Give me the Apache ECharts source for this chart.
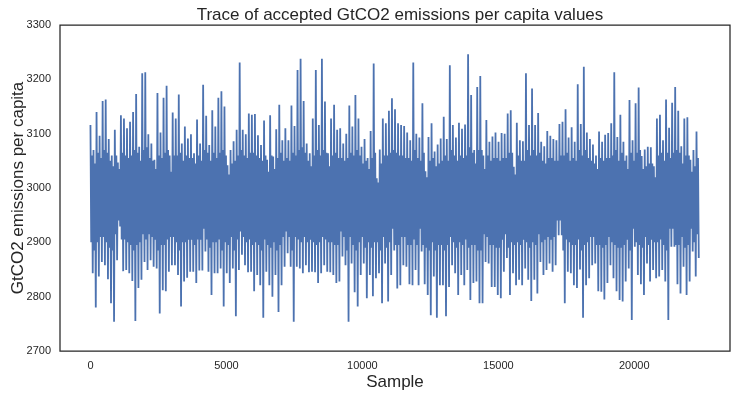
<!DOCTYPE html>
<html>
<head>
<meta charset="utf-8">
<script src="https://cdn.jsdelivr.net/npm/echarts@6/dist/echarts.min.js"></script>
<style>
  html, body { margin: 0; padding: 0; background: #fff; }
  #chart { width: 737px; height: 397px; }
</style>
</head>
<body>
<div id="chart"></div>
<script>
// trace, per bin of 112 samples:
// highest value, lowest value, and where the dense core of the band starts/ends
const binSize = 112
const upper = [
  3116, 3070, 3140, 3096, 3160, 3163, 3090, 3060, 3107, 3047,
  3134, 3128, 3110, 3122, 3140, 3173, 3076, 3211, 3213, 3099,
  3082, 3052, 3175, 3102, 3166, 3188, 3060, 3139, 3128, 3172,
  3082, 3113, 3091, 3099, 3064, 3126, 3082, 3190, 3133, 3079,
  3143, 3113, 3166, 3178, 3150, 3042, 3070, 3086, 3107, 3231,
  3107, 3099, 3137, 3135, 3136, 3097, 3079, 3124, 3052, 3134,
  3058, 3108, 3153, 3088, 3110, 3088, 3152, 3114, 3217, 3238,
  3160, 3082, 3064, 3128, 3217, 3116, 3238, 3159, 3064, 3128,
  3153, 3107, 3110, 3082, 3100, 3152, 3113, 3171, 3128, 3076,
  3090, 3055, 3105, 3229, 3018, 3071, 3128, 3119, 3142, 3165,
  3145, 3119, 3116, 3114, 3102, 3088, 3231, 3100, 3093, 3156,
  3031, 3094, 3119, 3067, 3080, 3091, 3131, 3090, 3226, 3116,
  3093, 3120, 3109, 3117, 3246, 3171, 3070, 3186, 3206, 3060,
  3125, 3085, 3095, 3102, 3085, 3101, 3100, 3137, 3143, 3039,
  3120, 3088, 3086, 3211, 3116, 3183, 3116, 3138, 3085, 3077,
  3105, 3096, 3090, 3088, 3118, 3122, 3145, 3093, 3112, 3085,
  3191, 3118, 3223, 3102, 3090, 3080, 3060, 3104, 3085, 3098,
  3101, 3119, 3213, 3094, 3135, 3085, 3060, 3162, 3088, 3156,
  3185, 3059, 3071, 3076, 3075, 3040, 3128, 3135, 3088, 3163,
  3111, 3157, 3186, 3142, 3077, 3128, 3130, 3052, 3070, 3104
]
const lower = [
  2843, 2780, 2837, 2864, 2858, 2832, 2788, 2754, 2867, 2929,
  2847, 2849, 2843, 2829, 2755, 2816, 2831, 2864, 2849, 2867,
  2855, 2852, 2769, 2812, 2810, 2846, 2858, 2858, 2840, 2782,
  2828, 2835, 2846, 2846, 2825, 2848, 2848, 2883, 2846, 2803,
  2843, 2843, 2852, 2782, 2843, 2825, 2852, 2764, 2849, 2877,
  2858, 2845, 2846, 2810, 2840, 2821, 2761, 2846, 2821, 2800,
  2840, 2772, 2821, 2855, 2880, 2855, 2754, 2855, 2852, 2843,
  2858, 2845, 2846, 2845, 2825, 2843, 2858, 2846, 2845, 2840,
  2825, 2828, 2874, 2858, 2754, 2861, 2808, 2782, 2840, 2861,
  2797, 2840, 2801, 2834, 2843, 2788, 2861, 2791, 2840, 2885,
  2815, 2821, 2858, 2855, 2823, 2821, 2849, 2821, 2883, 2823,
  2803, 2766, 2837, 2761, 2821, 2821, 2764, 2818, 2858, 2843,
  2803, 2840, 2821, 2849, 2794, 2825, 2828, 2788, 2788, 2864,
  2861, 2818, 2818, 2803, 2797, 2846, 2871, 2803, 2843, 2821,
  2831, 2821, 2852, 2831, 2792, 2831, 2806, 2864, 2840, 2849,
  2861, 2846, 2858, 2913, 2913, 2788, 2846, 2843, 2821, 2816,
  2850, 2761, 2821, 2834, 2858, 2861, 2810, 2809, 2795, 2825,
  2858, 2834, 2810, 2794, 2791, 2828, 2852, 2757, 2892, 2840,
  2823, 2803, 2861, 2828, 2849, 2834, 2837, 2849, 2828, 2757,
  2892, 2892, 2823, 2806, 2855, 2803, 2828, 2883, 2837, 2871
]
const coreTop = [
  3060, 3045, 3065, 3055, 3070, 3065, 3050, 3040, 3060, 3035,
  3065, 3060, 3055, 3060, 3070, 3065, 3050, 3070, 3075, 3055,
  3050, 3035, 3060, 3055, 3065, 3070, 3030, 3060, 3060, 3065,
  3050, 3060, 3055, 3055, 3045, 3060, 3050, 3070, 3065, 3050,
  3065, 3055, 3065, 3070, 3060, 3025, 3045, 3050, 3060, 3070,
  3060, 3055, 3065, 3065, 3060, 3055, 3050, 3060, 3030, 3060,
  3035, 3055, 3065, 3050, 3055, 3050, 3065, 3060, 3070, 3075,
  3065, 3050, 3040, 3060, 3070, 3060, 3070, 3065, 3040, 3060,
  3065, 3055, 3055, 3050, 3055, 3065, 3060, 3070, 3060, 3045,
  3050, 3035, 3055, 3065, 3010, 3045, 3060, 3060, 3065, 3070,
  3065, 3060, 3060, 3055, 3055, 3050, 3070, 3055, 3050, 3065,
  3020, 3050, 3055, 3040, 3045, 3050, 3060, 3050, 3070, 3060,
  3050, 3060, 3055, 3060, 3075, 3065, 3045, 3070, 3070, 3035,
  3060, 3050, 3055, 3055, 3050, 3055, 3055, 3065, 3065, 3025,
  3060, 3050, 3050, 3070, 3060, 3070, 3060, 3065, 3050, 3045,
  3055, 3055, 3050, 3050, 3060, 3060, 3065, 3050, 3055, 3050,
  3070, 3060, 3070, 3055, 3050, 3045, 3035, 3055, 3050, 3055,
  3055, 3060, 3070, 3050, 3065, 3050, 3035, 3065, 3050, 3065,
  3070, 3035, 3040, 3045, 3045, 3020, 3060, 3065, 3050, 3065,
  3055, 3065, 3070, 3065, 3045, 3060, 3060, 3030, 3040, 3055
]
const coreBottom = [
  2900, 2885, 2900, 2910, 2910, 2900, 2890, 2885, 2915, 2940,
  2905, 2905, 2900, 2895, 2885, 2895, 2900, 2915, 2905, 2915,
  2910, 2905, 2885, 2895, 2895, 2905, 2910, 2910, 2900, 2885,
  2900, 2900, 2905, 2905, 2895, 2905, 2905, 2925, 2905, 2890,
  2900, 2900, 2905, 2885, 2900, 2895, 2910, 2885, 2905, 2920,
  2910, 2900, 2905, 2895, 2900, 2895, 2885, 2905, 2895, 2890,
  2900, 2885, 2895, 2910, 2920, 2910, 2885, 2910, 2905, 2900,
  2910, 2900, 2905, 2900, 2895, 2900, 2910, 2905, 2900, 2900,
  2895, 2895, 2920, 2910, 2885, 2910, 2895, 2885, 2900, 2910,
  2890, 2900, 2890, 2900, 2900, 2885, 2910, 2890, 2900, 2925,
  2895, 2895, 2910, 2910, 2895, 2895, 2905, 2895, 2925, 2895,
  2890, 2885, 2900, 2885, 2895, 2895, 2885, 2895, 2910, 2900,
  2890, 2900, 2895, 2905, 2890, 2895, 2895, 2885, 2885, 2915,
  2910, 2895, 2895, 2890, 2890, 2905, 2915, 2890, 2900, 2895,
  2900, 2895, 2905, 2900, 2890, 2900, 2895, 2915, 2900, 2905,
  2910, 2905, 2910, 2940, 2940, 2885, 2905, 2900, 2895, 2895,
  2905, 2885, 2895, 2900, 2910, 2910, 2895, 2895, 2890, 2895,
  2910, 2900, 2895, 2890, 2890, 2895, 2905, 2885, 2925, 2900,
  2895, 2890, 2910, 2895, 2905, 2900, 2900, 2905, 2895, 2885,
  2925, 2925, 2895, 2895, 2910, 2890, 2895, 2925, 2900, 2915
]
const xTicks = [0, 5000, 10000, 15000, 20000]
const yMin = 2700, yMax = 3300, yStep = 100

// walk each bin: high, down into the core, back up, then the low
const trace = []
const q = binSize / 4
for (let i = 0; i < upper.length; i++) {
  const s = i * binSize
  trace.push([s, upper[i]])
  trace.push([s + q, coreBottom[i]])
  trace.push([s + 2 * q, coreTop[i]])
  trace.push([s + 3 * q, lower[i]])
}

const ink = '#262626'
const font = '"Liberation Sans", Arial, sans-serif'

const chart = echarts.init(document.getElementById('chart'), null, {renderer: 'canvas'})
chart.setOption({
  animation: false,
  title: {
    text: 'Trace of accepted GtCO2 emissions per capita values',
    left: 395, top: 2, textAlign: 'center',
    textStyle: {fontFamily: font, fontSize: 17, fontWeight: 'normal', color: ink}
  },
  grid: {
    left: 60, right: 7, top: 25, bottom: 46,
    containLabel: false, outerBoundsMode: 'none',
    show: true, borderColor: ink, borderWidth: 1.25, backgroundColor: '#fff'
  },
  xAxis: {
    type: 'value', min: -1120, max: 23520,
    name: 'Sample', nameLocation: 'middle', nameGap: 23, nameMoveOverlap: false,
    nameTextStyle: {fontFamily: font, fontSize: 17, color: ink},
    axisLine: {show: false}, axisTick: {show: false}, splitLine: {show: false},
    axisLabel: {customValues: xTicks, formatter: v => String(v), fontFamily: font, fontSize: 11, color: ink, margin: 9}
  },
  yAxis: {
    type: 'value', min: yMin, max: yMax, interval: yStep,
    name: 'GtCO2 emissions per capita', nameLocation: 'middle', nameGap: 33, nameMoveOverlap: false,
    nameTextStyle: {fontFamily: font, fontSize: 17, color: ink},
    axisLine: {show: false}, axisTick: {show: false}, splitLine: {show: false},
    axisLabel: {formatter: v => String(v), fontFamily: font, fontSize: 11, color: ink, margin: 9}
  },
  series: [{
    type: 'line', data: trace, showSymbol: false, sampling: false,
    lineStyle: {color: '#4C72B0', width: 1.8}
  }]
})
</script>
</body>
</html>
